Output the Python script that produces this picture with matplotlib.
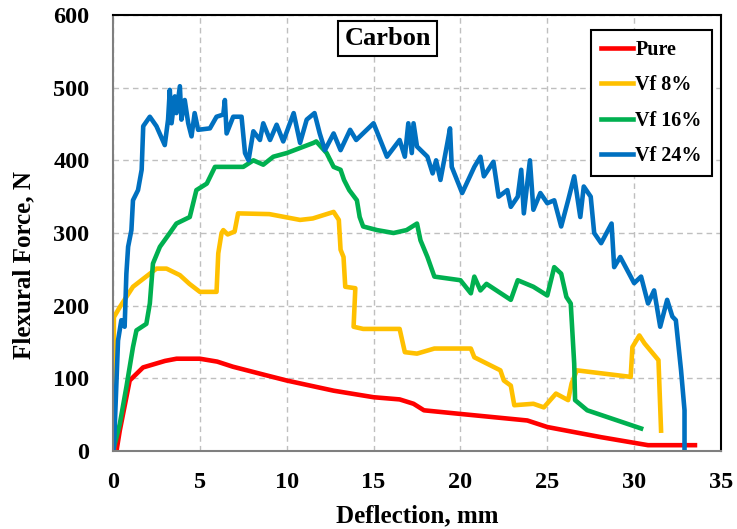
import numpy as np
import matplotlib
matplotlib.use('Agg')
import matplotlib.pyplot as plt

plt.rcParams['font.family'] = ['Liberation Serif', 'DejaVu Serif']
plt.rcParams['font.weight'] = 'bold'

# Pure
x_pure = [0.2, 0.39, 0.96, 1.73, 3.0, 3.66, 5.0, 6.0, 6.9, 8.85, 10.0, 12.7, 15.0, 16.5, 17.3,
          17.9, 20.0, 23.85, 25.0, 28.1, 30.8, 33.5]
y_pure = [0, 28, 97, 115, 124, 127, 127, 123, 116, 104, 97, 83, 74, 71, 65,
          56, 51, 42, 33, 19, 8, 8]

# Vf 8%
x_vf8 = [0.05, 0.05, 0.39, 1.15, 2.5, 3.08, 3.85, 4.4, 5.0, 5.96, 6.06, 6.25, 6.35, 6.6, 7.0, 7.2,
         9.0, 10.77, 11.5, 12.7, 13.0, 13.1, 13.27, 13.37, 13.95, 13.85, 14.4, 16.5, 16.8, 17.5,
         18.5, 20.6, 20.8, 22.3, 22.5, 22.9, 23.1, 24.2, 24.8, 25.5, 26.2, 26.4, 26.7, 29.8,
         29.9, 30.3, 30.6, 31.4, 31.55]
y_vf8 = [0, 184, 198, 226, 251, 251, 242, 230, 219, 219, 272, 300, 304, 298, 302, 327,
         326, 318, 320, 329, 318, 277, 267, 226, 224, 171, 168, 168, 136, 134,
         141, 141, 129, 111, 97, 90, 63, 65, 60, 79, 70, 93, 111, 102,
         143, 159, 148, 125, 28]

# Vf 16%
x_vf16 = [0.0, 0.39, 0.77, 1.15, 1.35, 1.92, 2.12, 2.3, 2.7, 3.27, 3.65, 4.42, 4.8, 5.4, 5.87,
          7.5, 8.08, 8.65, 9.23, 10.0, 10.77, 11.54, 11.7, 12.3, 12.7, 13.1, 13.3, 13.6, 14.04,
          14.2, 14.4, 15.2, 16.15, 16.9, 17.5, 17.7, 18.1, 18.5, 20.0, 20.6, 20.8, 21.15, 21.5,
          22.9, 23.3, 24.2, 25.0, 25.4, 25.8, 26.1, 26.35, 26.55, 26.6, 27.3, 30.4]
y_vf16 = [0, 37, 88, 143, 166, 175, 203, 258, 281, 300, 313, 322, 359, 368, 391,
          391, 400, 394, 405, 410, 417, 424, 426, 410, 391, 387, 373, 359, 345,
          322, 309, 304, 300, 304, 313, 290, 267, 240, 235, 217, 240, 221, 230,
          208, 235, 226, 214, 253, 244, 212, 203, 120, 70, 56, 31]

# Vf 24%
x_vf24 = [0.04, 0.1, 0.29, 0.48, 0.67, 0.77, 0.87, 1.06, 1.15, 1.44,
          1.65, 1.74, 2.12, 2.5, 2.98, 3.17, 3.27, 3.37, 3.56, 3.65,
          3.85, 3.94, 4.13, 4.33, 4.52, 4.7, 4.9, 5.58, 5.96, 6.35,
          6.44, 6.54, 6.92, 7.4, 7.6, 7.8, 8.08, 8.46, 8.65, 9.04,
          9.42, 9.8, 10.4, 10.77, 11.15, 11.6, 11.9, 12.2, 12.7, 13.1,
          13.65, 14.0, 15.0, 15.77, 16.5, 16.8, 17.0, 17.2, 17.3, 17.5,
          18.1, 18.4, 18.6, 18.85, 19.25, 19.4, 19.5, 20.1, 20.8, 21.15,
          21.35, 21.9, 22.2, 22.7, 22.9, 23.3, 23.5, 23.65, 24.0, 24.2,
          24.6, 25.0, 25.4, 25.8, 26.2, 26.55, 26.9, 27.1, 27.5, 27.7,
          28.1, 28.7, 28.85, 29.2, 29.6, 30.0, 30.4, 30.8, 31.15, 31.5,
          31.9, 32.2, 32.4, 32.7, 32.9, 32.9]
y_vf24 = [0, 33, 152, 180, 171, 244, 281, 304, 345, 359,
          387, 447, 460, 447, 421, 456, 497, 451, 488, 465,
          502, 456, 483, 451, 433, 465, 442, 444, 460, 463,
          483, 437, 460, 460, 410, 400, 440, 428, 451, 428,
          449, 426, 465, 424, 456, 465, 437, 414, 437, 414,
          442, 428, 451, 405, 428, 405, 451, 410, 451, 419,
          405, 382, 400, 373, 424, 444, 391, 355, 391, 405,
          378, 398, 350, 359, 336, 350, 387, 327, 400, 332,
          355, 341, 345, 309, 345, 378, 322, 364, 350, 300,
          286, 313, 253, 267, 249, 231, 240, 203, 221, 171,
          208, 185, 180, 111, 56, 0]

W, H = 737, 529
fig = plt.figure(figsize=(W / 100, H / 100), dpi=100)
ax = fig.add_axes([113 / W, 1 - 451 / H, 608 / W, 436 / H])

lw = 3.3
ax.plot(x_pure, y_pure, color='#FF0000', lw=lw, label='Pure', solid_joinstyle='round')
ax.plot(x_vf8, y_vf8, color='#FFC000', lw=lw, label='Vf 8%', solid_joinstyle='round')
ax.plot(x_vf16, y_vf16, color='#00B050', lw=lw, label='Vf 16%', solid_joinstyle='round')
ax.plot(x_vf24, y_vf24, color='#0070C0', lw=lw, label='Vf 24%', solid_joinstyle='round')

ax.set_xlim(0, 35)
ax.set_ylim(0, 600)
ax.set_xticks(np.arange(0, 36, 5))
ax.set_yticks(np.arange(0, 601, 100))
ax.grid(True, ls=(0, (4, 3)), color='#BFBFBF', lw=1)
ax.set_axisbelow(True)
ax.tick_params(length=0, labelsize=17.5)
ax.tick_params(axis='y', pad=17)
ax.tick_params(axis='x', pad=15)
for lab in ax.get_xticklabels() + ax.get_yticklabels():
    lab.set_fontweight('bold')

for s in ['top', 'right']:
    ax.spines[s].set_color('black')
    ax.spines[s].set_linewidth(1.5)
for s in ['left', 'bottom']:
    ax.spines[s].set_color('#7F7F7F')
    ax.spines[s].set_linewidth(1.5)

fig.text(417 / W, 1 - 516 / H, 'Deflection, mm', fontsize=18, fontweight='bold',
         ha='center', va='center')
fig.text(24 / W, 1 - 265 / H, 'Flexural Force, N', fontsize=18, fontweight='bold',
         ha='center', va='center', rotation=90)

ax.text((387.5 - 113) / 608, 1 - (38.7 - 15) / 436, 'Carbon', transform=ax.transAxes,
        fontsize=19, fontweight='bold', ha='center', va='center',
        bbox=dict(boxstyle='square,pad=0.22', fc='white', ec='black', lw=1.5))

leg = ax.legend(loc='upper right', bbox_to_anchor=(0.985, 0.9665), borderaxespad=0,
                handlelength=1.6, handletextpad=0.1, labelspacing=0.77,
                borderpad=0.5, fancybox=False, framealpha=1, edgecolor='black',
                prop={'weight': 'bold', 'size': 14.5})
leg.get_frame().set_linewidth(1.5)

plt.savefig('out.png')
